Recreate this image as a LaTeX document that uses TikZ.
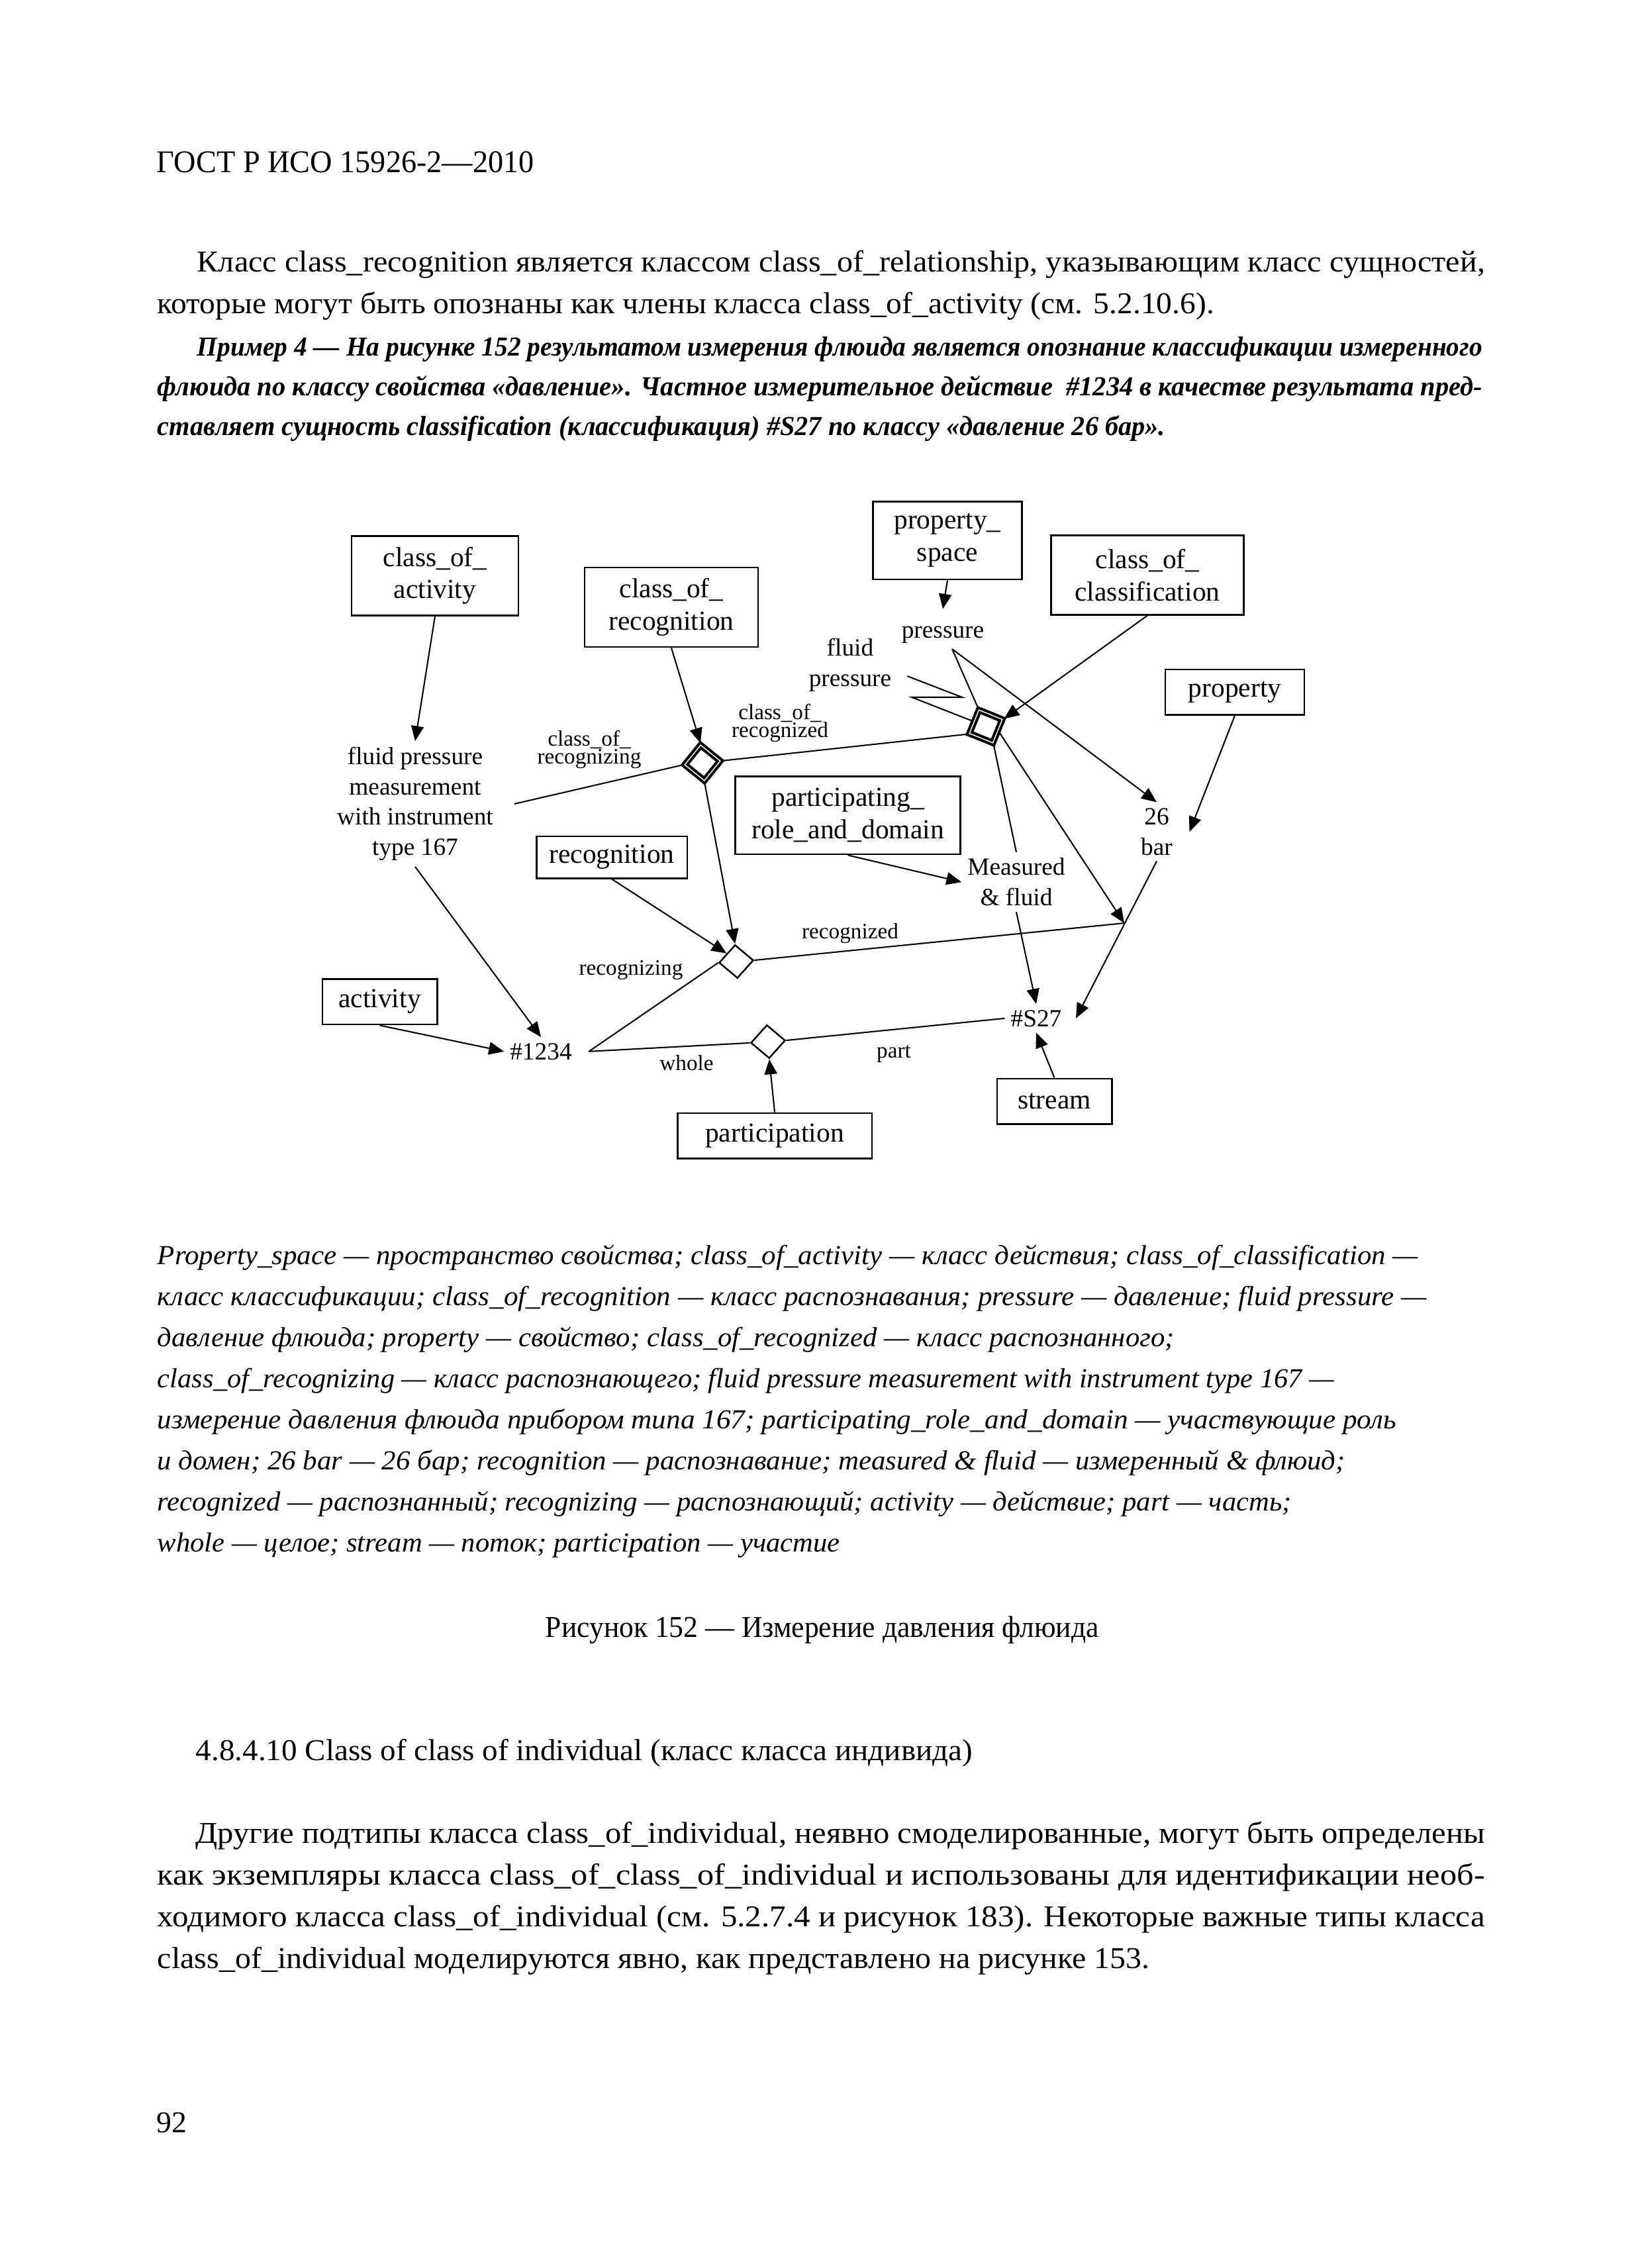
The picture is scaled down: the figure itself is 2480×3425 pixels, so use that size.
\documentclass[tikz,border=0pt]{standalone}
\usepackage{fontspec}
\setmainfont{Liberation Serif}
\usepackage{graphicx}
\usetikzlibrary{arrows.meta,shapes.geometric}
\newdimen\pxu \pxu=0.24090pt
\newcommand\fitline[2]{\resizebox{#1\pxu}{\height}{#2}}
\newcommand\bodyf{\fontsize{11}{13}\selectfont}
\newcommand\exf{\fontsize{10}{12}\selectfont\bfseries\itshape}
\newcommand\legf{\fontsize{10}{12}\selectfont\itshape}
\begin{document}
\begin{tikzpicture}[x=0.2409pt,y=-0.2409pt,
  box/.style={draw, line width=0.7pt, align=center, inner sep=0pt, font=\fontsize{10}{11.7}\selectfont},
  lbl/.style={align=center, inner sep=2pt, font=\fontsize{9}{11}\selectfont},
  sml/.style={align=center, inner sep=0pt, font={\fontsize{8}{6.5}\selectfont\lineskiplimit=-20pt\lineskip=0pt}},
  con/.style={line width=0.5pt},
  arr/.style={con, -{Triangle[length=5.5pt,width=4.6pt]}},
  dia/.style={draw, diamond, line width=0.6pt, inner sep=0pt, minimum width=12.6pt, minimum height=12.2pt},
  bdia/.style={draw, diamond, line width=1.0pt, double, double distance=0.35pt, inner sep=0pt, minimum width=13.4pt, minimum height=13.4pt},
  txt/.style={anchor=base west, inner sep=0pt}
]
\fill[white] (0,0) rectangle (2480,3425);
\useasboundingbox (0,0) rectangle (2480,3425);

% ---------- page text ----------
\node[txt] (hdr) at (236,260) {\fontsize{11.5}{13}\selectfont\fitline{570}{ГОСТ Р ИСО 15926-2—2010}};
\node[txt] (p1a) at (297,410) {\bodyf\fitline{1945}{Класс class\_recognition является классом class\_of\_relationship, указывающим класс сущностей,}};
\node[txt] (p1b) at (237,473) {\bodyf\fitline{1596}{которые могут быть опознаны как члены класса class\_of\_activity (см. 5.2.10.6).}};
\node[txt] (ex1) at (297,537) {\exf\fitline{1941}{Пример 4 — На рисунке 152 результатом измерения флюида является опознание классификации измеренного}};
\node[txt] (ex2) at (237,597) {\exf\fitline{2001}{флюида по классу свойства «давление». Частное измерительное действие \ \#1234 в качестве результата пред-}};
\node[txt] (ex3) at (237,657) {\exf\fitline{1522}{ставляет сущность classification (классификация) \#S27 по классу «давление 26 бар».}};

\node[txt] (lg1) at (237,1909) {\legf\fitline{1904}{Property\_space — пространство свойства; class\_of\_activity — класс действия; class\_of\_classification —}};
\node[txt] (lg2) at (237,1971) {\legf\fitline{1917}{класс классификации; class\_of\_recognition — класс распознавания; pressure — давление; fluid pressure —}};
\node[txt] (lg3) at (237,2033) {\legf\fitline{1536}{давление флюида; property — свойство; class\_of\_recognized — класс распознанного;}};
\node[txt] (lg4) at (237,2095) {\legf\fitline{1777}{class\_of\_recognizing — класс распознающего; fluid pressure measurement with instrument type 167 —}};
\node[txt] (lg5) at (237,2157) {\legf\fitline{1871}{измерение давления флюида прибором типа 167; participating\_role\_and\_domain — участвующие роль}};
\node[txt] (lg6) at (237,2219) {\legf\fitline{1794}{и домен; 26 bar — 26 бар; recognition — распознавание; measured \& fluid — измеренный \& флюид;}};
\node[txt] (lg7) at (237,2281) {\legf\fitline{1713}{recognized — распознанный; recognizing — распознающий; activity — действие; part — часть;}};
\node[txt] (lg8) at (237,2343) {\legf\fitline{1031}{whole — целое; stream — поток; participation — участие}};

\node[txt] (cap) at (823,2472) {\bodyf\fitline{836}{Рисунок 152 — Измерение давления флюида}};
\node[txt] (sec) at (295,2658) {\bodyf\fitline{1173}{4.8.4.10 Class of class of individual (класс класса индивида)}};
\node[txt] (p2a) at (295,2783) {\bodyf\fitline{1947}{Другие подтипы класса class\_of\_individual, неявно смоделированные, могут быть определены}};
\node[txt] (p2b) at (237,2846) {\bodyf\fitline{2005}{как экземпляры класса class\_of\_class\_of\_individual и использованы для идентификации необ-}};
\node[txt] (p2c) at (237,2909) {\bodyf\fitline{2005}{ходимого класса class\_of\_individual (см. 5.2.7.4 и рисунок 183). Некоторые важные типы класса}};
\node[txt] (p2d) at (237,2972) {\bodyf\fitline{1499}{class\_of\_individual моделируются явно, как представлено на рисунке 153.}};
\node[txt] (pgn) at (236,3220) {\bodyf 92};

% ---------- diagram: boxes ----------
\node[box, minimum width=60.7pt, minimum height=28.7pt] (coa) at (657,869.5) {class\_of\_\\activity};
\node[box, minimum width=63.1pt, minimum height=28.9pt] (cor) at (1014,917) {class\_of\_\\recognition};
\node[box, minimum width=54.4pt, minimum height=28.4pt] (ps) at (1431,816) {property\_\\space};
\node[box, minimum width=70.3pt, minimum height=28.7pt] (coc) at (1733,868.5) {class\_of\_\\classification};
\node[box, minimum width=50.6pt, minimum height=16.4pt] (prop) at (1865,1045) {property};
\node[box, minimum width=82.1pt, minimum height=28.4pt] (prd) at (1280.5,1231) {participating\_\\role\_and\_domain};
\node[box, minimum width=54.9pt, minimum height=15.2pt] (recog) at (924,1294.5) {recognition};
\node[box, minimum width=41.7pt, minimum height=16.6pt] (act) at (573.5,1512.5) {activity};
\node[box, minimum width=41.7pt, minimum height=16.4pt] (stream) at (1592.5,1663) {stream};
\node[box, minimum width=70.8pt, minimum height=16.4pt] (part) at (1170,1715) {participation};

% ---------- diagram: free labels ----------
\node[lbl] (fpm) at (627,1214) {fluid pressure\\measurement\\with instrument\\type 167};
\node[lbl, anchor=base] (pressure) at (1424,963) {pressure};
\node[lbl] (fp) at (1284,1004) {fluid\\pressure};
\node[lbl] (bar) at (1747,1256) {26\\bar};
\node[lbl] (meas) at (1535,1332) {Measured\\\& fluid};
\node[lbl, anchor=base] (n1234) at (817,1600) {\#1234};
\node[lbl, anchor=base] (s27) at (1565,1550) {\#S27};
\node[sml] (lcr) at (890,1132) {class\_of\_\\recognizing};
\node[sml] (lcd) at (1178,1092) {class\_of\_\\recognized};
\node[sml, anchor=base] (lrg) at (953,1472) {recognizing};
\node[sml, anchor=base] (lrd) at (1284,1417) {recognized};
\node[sml, anchor=base] (lwh) at (1037,1616) {whole};
\node[sml, anchor=base] (lpt) at (1350,1597) {part};

% ---------- diagram: relationship diamonds ----------
\node[bdia, rotate=6] (d1) at (1061,1152) {};
\node[bdia, rotate=23] (d2) at (1489,1097) {};
\node[dia, rotate=4] (d3) at (1112,1452) {};
\node[dia, rotate=4] (d4) at (1160,1573) {};
\coordinate (recpt) at (1698,1394);

% ---------- connectors ----------
\draw[arr] (coa.south) -- (fpm.north);
\draw[arr] (cor.south) -- (d1.north);
\draw[con] ([xshift=5.5pt]fpm.east) -- (d1.west);
\draw[con] (d1.east) -- (d2.west);
\draw[arr] (d1.south) -- (d3.north);
\draw[arr] (ps.south) -- ([yshift=4pt]pressure.north);
\draw[arr] (coc.south) -- (d2.east);
\coordinate (pr) at ([xshift=3.4pt]pressure.south);
\draw[con] (pr) -- (d2.north);
\draw[arr] (pr) -- (bar.north);
\draw[con] ([xshift=3.6pt,yshift=-4.1pt]fp.east) -- ++(83,32) -- ++(-76,0) -- (d2.north west);
\draw[con] (d2.south) -- (meas.north);
\draw[arr] (d2.south east) -- (recpt);
\draw[con] (d3.east) -- (recpt);
\draw[arr] (prop.south) -- ([xshift=4pt]bar.east);
\draw[arr] (bar.south) -- ([xshift=3pt]s27.east);
\draw[arr] (prd.south) -- (meas.west);
\draw[arr] (meas.south) -- (s27.north);
\draw[arr] (recog.south) -- (d3.north west);
\draw[arr] (fpm.south) -- (n1234.north);
\draw[arr] (act.south) -- (n1234.west);
\draw[con] ([xshift=4pt]n1234.east) -- (d3.west);
\draw[con] ([xshift=4pt]n1234.east) -- (d4.west);
\draw[con] (d4.east) -- (s27.west);
\draw[arr] (part.north) -- (d4.south);
\draw[arr] (stream.north) -- (s27.south);
\end{tikzpicture}
\end{document}
